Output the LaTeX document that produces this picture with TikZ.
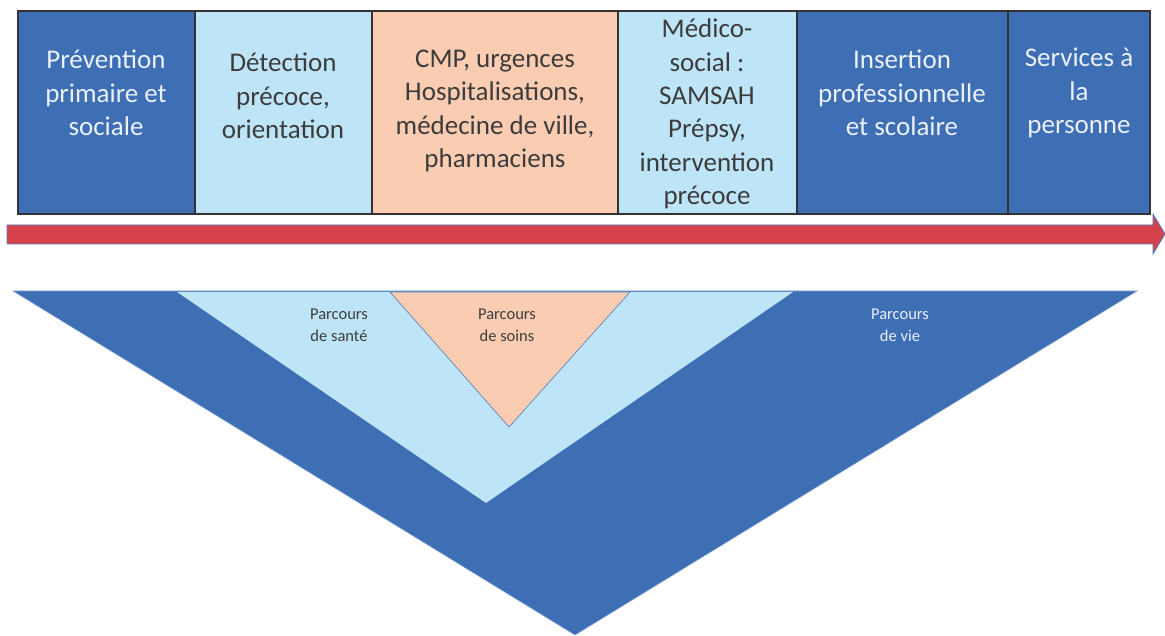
\documentclass[tikz,border=0pt]{standalone}
\usepackage{fontspec}
\setmainfont{Carlito}
\definecolor{dblue}{RGB}{62,110,180}
\definecolor{lblue}{RGB}{190,228,248}
\definecolor{orng}{RGB}{250,205,178}
\definecolor{redarr}{RGB}{214,66,76}
\definecolor{edgeblue}{RGB}{80,125,190}
\definecolor{darktxt}{RGB}{60,60,60}
\definecolor{lighttxt}{RGB}{235,240,250}
\begin{document}
\begin{tikzpicture}[x=1pt,y=-1pt,
  cell/.style={draw=black!80,line width=1.2pt},
  bigtxt/.style={align=center,inner sep=0pt,font=\fontsize{27}{33.4}\selectfont},
  ontxt/.style={bigtxt,text=lighttxt},
  offtxt/.style={bigtxt,text=darktxt},
  smalltxt/.style={align=center,inner sep=0pt,font=\fontsize{16.5}{22}\selectfont}]
\useasboundingbox (0,0) rectangle (1165,636);
% top boxes
\path[cell,fill=dblue] (18,11) rectangle (195,214);
\path[cell,fill=lblue] (195,11) rectangle (372,214);
\path[cell,fill=orng] (372,11) rectangle (618,214);
\path[cell,fill=lblue] (618,11) rectangle (797,214);
\path[cell,fill=dblue] (797,11) rectangle (1008,214);
\path[cell,fill=dblue] (1008,11) rectangle (1150,214);
\node[ontxt] (t1) at (106,93) {Prévention\\primaire et\\sociale};
\node[offtxt] (t2) at (283,96) {Détection\\précoce,\\orientation};
\node[offtxt] (t3) at (495,111) {CMP, urgences\\Hospitalisations,\\médecine de ville,\\pharmaciens};
\node[offtxt] (t4) at (707,114) {Médico-\\social :\\SAMSAH\\Prépsy,\\intervention\\précoce};
\node[ontxt] (t5) at (902,93) {Insertion\\professionnelle\\et scolaire};
\node[ontxt] (t6) at (1079,93) {Services à\\la\\personne};
% arrow
\path[fill=redarr,draw=edgeblue,line width=0.8pt] (7,225) -- (1153,225) -- (1153,214) -- (1165,234) -- (1153,254) -- (1153,244) -- (7,244) -- cycle;
% triangles
\path[fill=dblue,draw=edgeblue!70!white,line width=0.6pt] (13,291) -- (1137,291) -- (575,635) -- cycle;
\path[fill=lblue] (177,292) -- (793,292) -- (486,503) -- cycle;
\path[fill=orng,draw=edgeblue,line width=0.6pt] (390,292) -- (630,292) -- (509,427) -- cycle;
\node[smalltxt,text=darktxt] (s1) at (339,325) {Parcours\\de santé};
\node[smalltxt,text=darktxt] (s2) at (507,325) {Parcours\\de soins};
\node[smalltxt,text=lighttxt] (s3) at (900,325) {Parcours\\de vie};
\end{tikzpicture}
\end{document}
